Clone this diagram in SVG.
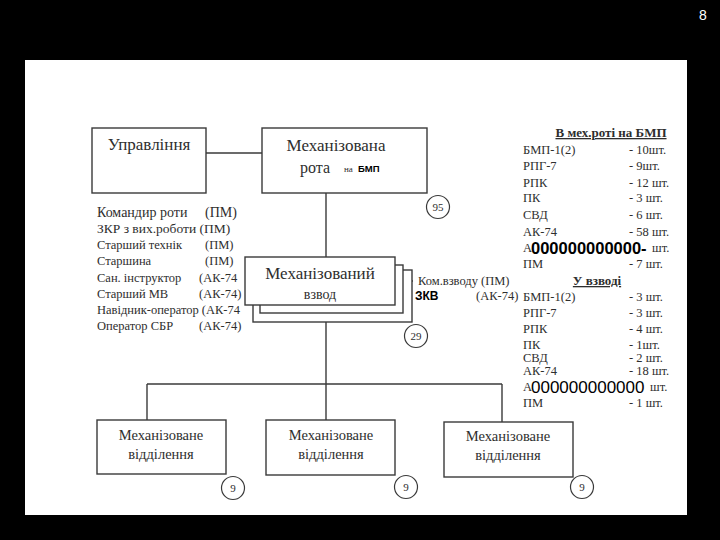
<svg xmlns="http://www.w3.org/2000/svg" width="720" height="540" viewBox="0 0 720 540">
<style>
.box{fill:#fff;stroke:#3a3a3a;stroke-width:1.4}
.ln{fill:none;stroke:#3a3a3a;stroke-width:1.4}
.t{font-family:"Liberation Serif","DejaVu Serif",serif;fill:#2e2e2e}
.big{font-size:17px}
.sm{font-size:12.5px}
.hd{font-size:13px;font-weight:bold;text-decoration:underline}
.ov{font-family:"Liberation Sans","DejaVu Sans",sans-serif;fill:#000;font-weight:bold}
.cir{fill:#fff;stroke:#3a3a3a;stroke-width:1.2}
</style>
<rect x="0" y="0" width="720" height="540" fill="#000"/>
<text x="703" y="20" font-family="Liberation Sans, sans-serif" font-size="14" fill="#fff" text-anchor="middle">8</text>
<text x="64" y="90" font-family="Liberation Sans, sans-serif" font-size="40" font-weight="bold" fill="#cfd8dc">Механізована рота на БМП</text>
<rect x="25" y="60" width="662" height="455" fill="#fff"/>

<g id="connectors">
<line class="ln" x1="206" y1="153" x2="262" y2="153"/>
<line class="ln" x1="326" y1="193" x2="326" y2="258"/>
<line class="ln" x1="326" y1="322" x2="326" y2="420"/>
<line class="ln" x1="147" y1="384" x2="502" y2="384"/>
<line class="ln" x1="147" y1="384" x2="147" y2="420"/>
<line class="ln" x1="502" y1="384" x2="502" y2="422"/>
<line class="ln" x1="403" y1="281" x2="413" y2="281"/>
</g>

<g id="upravlinnia">
<rect class="box" x="92" y="128" width="114" height="65"/>
<text class="t big" x="149" y="150" text-anchor="middle">Управління</text>
</g>

<g id="rota">
<rect class="box" x="262" y="128" width="165" height="65"/>
<text class="t big" x="336" y="151" text-anchor="middle">Механізована</text>
<text class="t" x="300" y="173" font-size="16">рота</text>
<text class="t" x="344" y="172" font-size="9">на</text>
<text class="ov" x="358" y="172" font-size="9.5">БМП</text>
<circle class="cir" cx="438" cy="207" r="11.5"/>
<text class="t" x="438" y="211" font-size="11" text-anchor="middle">95</text>
</g>

<g id="platoon">
<rect class="box" x="253" y="270" width="159" height="52"/>
<rect class="box" x="260" y="265" width="143" height="48"/>
<rect class="box" x="245" y="257" width="150" height="48"/>
<text class="t big" x="320" y="279" text-anchor="middle">Механізований</text>
<text class="t" x="320" y="299" font-size="14" text-anchor="middle">взвод</text>
<circle class="cir" cx="416" cy="336" r="11.5"/>
<text class="t" x="416" y="340" font-size="11" text-anchor="middle">29</text>
</g>

<g id="platoon-staff">
<text class="t sm" x="418" y="285">Ком.взводу (ПМ)</text>
<text class="ov" x="415" y="300" font-size="12">ЗКВ</text>
<text class="t sm" x="476" y="300">(АК-74)</text>
</g>

<g id="staff">
<text class="t" x="97" y="217" font-size="14">Командир роти</text><text class="t" x="205" y="217" font-size="14">(ПМ)</text>
<text class="t" x="97" y="233" font-size="13.5">ЗКР з вих.роботи (ПМ)</text>
<text class="t sm" x="97" y="249">Старший технік</text><text class="t sm" x="205" y="249">(ПМ)</text>
<text class="t sm" x="97" y="265">Старшина</text><text class="t sm" x="205" y="265">(ПМ)</text>
<text class="t sm" x="97" y="282">Сан. інструктор</text><text class="t sm" x="199" y="282">(АК-74</text>
<text class="t sm" x="97" y="298">Старший МВ</text><text class="t sm" x="199" y="298">(АК-74)</text>
<text class="t sm" x="97" y="314">Навідник-оператор (АК-74</text>
<text class="t sm" x="97" y="330">Оператор СБР</text><text class="t sm" x="199" y="330">(АК-74)</text>
</g>

<g id="company-table">
<text class="t hd" x="611" y="137" text-anchor="middle">В мех.роті на БМП</text>
<text class="t sm" x="523" y="154">БМП-1(2)</text><text class="t sm" x="629" y="154">- 10шт.</text>
<text class="t sm" x="523" y="170">РПГ-7</text><text class="t sm" x="629" y="170">- 9шт.</text>
<text class="t sm" x="523" y="187">РПК</text><text class="t sm" x="629" y="187">- 12 шт.</text>
<text class="t sm" x="523" y="202">ПК</text><text class="t sm" x="629" y="202">- 3 шт.</text>
<text class="t sm" x="523" y="219">СВД</text><text class="t sm" x="629" y="219">- 6 шт.</text>
<text class="t sm" x="523" y="236">АК-74</text><text class="t sm" x="629" y="236">- 58 шт.</text>
<text class="t sm" x="523" y="252">А</text><text class="t sm" x="652" y="252">шт.</text>
<text class="ov" x="531" y="254" font-size="16.5">000000000000-</text>
<text class="t sm" x="523" y="268">ПМ</text><text class="t sm" x="629" y="268">- 7 шт.</text>
</g>

<g id="platoon-table">
<text class="t hd" x="597" y="285" text-anchor="middle">У взводі</text>
<text class="t sm" x="523" y="301">БМП-1(2)</text><text class="t sm" x="629" y="301">- 3 шт.</text>
<text class="t sm" x="523" y="317">РПГ-7</text><text class="t sm" x="629" y="317">- 3 шт.</text>
<text class="t sm" x="523" y="333">РПК</text><text class="t sm" x="629" y="333">- 4 шт.</text>
<text class="t sm" x="523" y="349">ПК</text><text class="t sm" x="629" y="349">- 1шт.</text>
<text class="t sm" x="523" y="362">СВД</text><text class="t sm" x="629" y="362">- 2 шт.</text>
<text class="t sm" x="523" y="375">АК-74</text><text class="t sm" x="629" y="375">- 18 шт.</text>
<text class="t sm" x="523" y="391">А</text><text class="t sm" x="650" y="391">шт.</text>
<text x="531" y="393" font-family="Liberation Sans, sans-serif" font-size="17" fill="#000">000000000000</text>
<text class="t sm" x="523" y="407">ПМ</text><text class="t sm" x="629" y="407">- 1 шт.</text>
</g>

<g id="section1">
<rect class="box" x="97" y="420" width="129" height="54"/>
<text class="t" x="161" y="440" font-size="14.5" text-anchor="middle">Механізоване</text>
<text class="t" x="161" y="459" font-size="14.5" text-anchor="middle">відділення</text>
<circle class="cir" cx="233" cy="488" r="11.5"/>
<text class="t" x="233" y="492" font-size="11" text-anchor="middle">9</text>
</g>

<g id="section2">
<rect class="box" x="266" y="420" width="129" height="55"/>
<text class="t" x="331" y="440" font-size="14.5" text-anchor="middle">Механізоване</text>
<text class="t" x="331" y="459" font-size="14.5" text-anchor="middle">відділення</text>
<circle class="cir" cx="406" cy="487" r="11.5"/>
<text class="t" x="406" y="491" font-size="11" text-anchor="middle">9</text>
</g>

<g id="section3">
<rect class="box" x="444" y="422" width="129" height="55"/>
<text class="t" x="508" y="441" font-size="14.5" text-anchor="middle">Механізоване</text>
<text class="t" x="508" y="460" font-size="14.5" text-anchor="middle">відділення</text>
<circle class="cir" cx="582" cy="487" r="11.5"/>
<text class="t" x="582" y="491" font-size="11" text-anchor="middle">9</text>
</g>
</svg>
